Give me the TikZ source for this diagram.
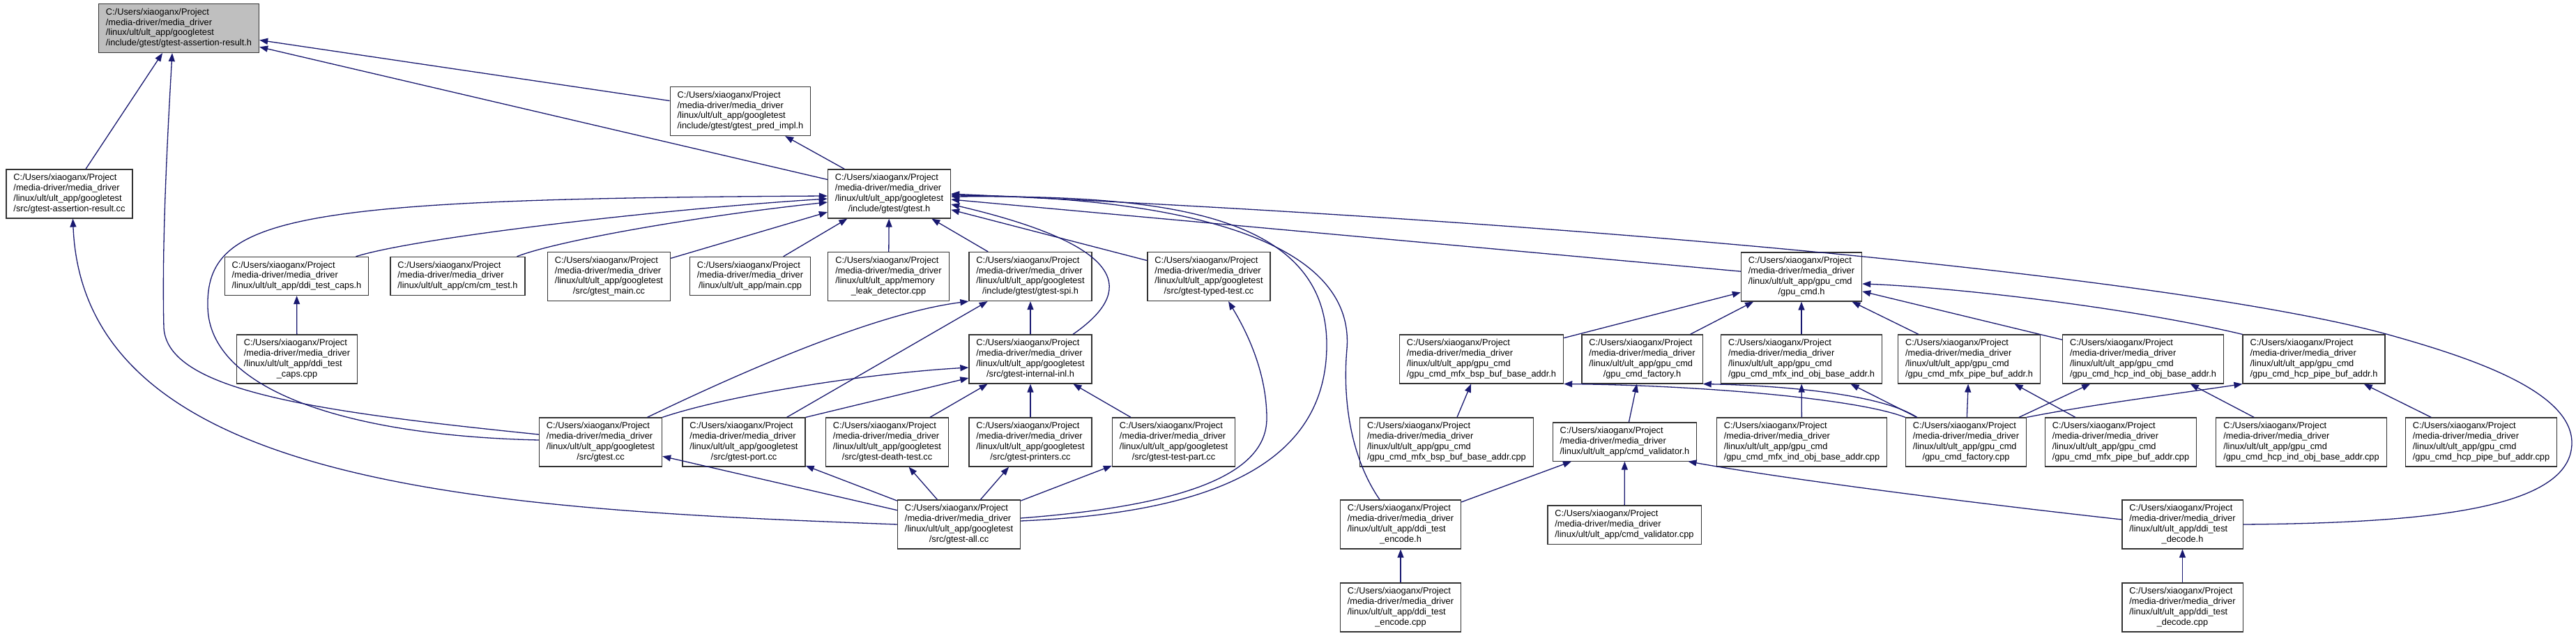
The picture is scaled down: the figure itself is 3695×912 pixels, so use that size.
\documentclass[tikz,border=0pt]{standalone}
\usepackage{fontspec}
\setmainfont{Liberation Sans}
\usetikzlibrary{arrows.meta}

\definecolor{edgeblue}{RGB}{25,25,112}
\definecolor{rootgray}{RGB}{191,191,191}

% file label: two fixed lines, then the rest (last line centred)
\newcommand{\incfile}[2]{\begin{tabular}{@{}l@{}}C:/Users/xiaoganx/Project\\/media-driver/media\_driver\\#1\\\multicolumn{1}{@{}c@{}}{#2}\end{tabular}}
\newcommand{\incshort}[1]{\begin{tabular}{@{}l@{}}C:/Users/xiaoganx/Project\\/media-driver/media\_driver\\\multicolumn{1}{@{}c@{}}{#1}\end{tabular}}

\begin{document}
\begin{tikzpicture}[x=1pt, y=-1pt,
    filebox/.style={draw=black!80, line width=1.2pt, fill=white, inner xsep=10.5pt, inner ysep=5.4pt,
        font=\fontsize{12.8}{14.8}\selectfont},
    incl/.style={draw=edgeblue, line width=1.3pt, -{Triangle[length=12pt,width=9pt]}}]
    \useasboundingbox[fill=white] (0,0) rectangle (3695,912);

    % Header under study
    \node[filebox, fill=rootgray] (root) at (256.5,40.5) {\incfile{/linux/ult/ult\_app/googletest}{/include/gtest/gtest-assertion-result.h}};

    % Row 1 and 2
    \node[filebox] (predimpl) at (1062,159.5) {\incfile{/linux/ult/ult\_app/googletest}{/include/gtest/gtest\_pred\_impl.h}};
    \node[filebox] (assertcc) at (99.5,278) {\incfile{/linux/ult/ult\_app/googletest}{/src/gtest-assertion-result.cc}};
    \node[filebox] (gtesth) at (1275.5,278) {\incfile{/linux/ult/ult\_app/googletest}{/include/gtest/gtest.h}};

    % Row 3
    \node[filebox] (capsh) at (425.5,396) {\incshort{/linux/ult/ult\_app/ddi\_test\_caps.h}};
    \node[filebox] (cmtesth) at (656.5,396) {\incshort{/linux/ult/ult\_app/cm/cm\_test.h}};
    \node[filebox] (gtestmain) at (873.5,396.5) {\incfile{/linux/ult/ult\_app/googletest}{/src/gtest\_main.cc}};
    \node[filebox] (maincpp) at (1076,396) {\incshort{/linux/ult/ult\_app/main.cpp}};
    \node[filebox] (memleak) at (1274.5,396.5) {\incfile{/linux/ult/ult\_app/memory}{\_leak\_detector.cpp}};
    \node[filebox] (spih) at (1478,396.5) {\incfile{/linux/ult/ult\_app/googletest}{/include/gtest/gtest-spi.h}};
    \node[filebox] (typedcc) at (1734,396.5) {\incfile{/linux/ult/ult\_app/googletest}{/src/gtest-typed-test.cc}};
    \node[filebox] (gpucmdh) at (2584,397) {\incfile{/linux/ult/ult\_app/gpu\_cmd}{/gpu\_cmd.h}};

    % Row 4
    \node[filebox] (capscpp) at (426,515) {\incfile{/linux/ult/ult\_app/ddi\_test}{\_caps.cpp}};
    \node[filebox] (internalh) at (1478,515) {\incfile{/linux/ult/ult\_app/googletest}{/src/gtest-internal-inl.h}};
    \node[filebox] (bsph) at (2125,515) {\incfile{/linux/ult/ult\_app/gpu\_cmd}{/gpu\_cmd\_mfx\_bsp\_buf\_base\_addr.h}};
    \node[filebox] (factoryh) at (2355.5,515) {\incfile{/linux/ult/ult\_app/gpu\_cmd}{/gpu\_cmd\_factory.h}};
    \node[filebox] (mfxindh) at (2584,515) {\incfile{/linux/ult/ult\_app/gpu\_cmd}{/gpu\_cmd\_mfx\_ind\_obj\_base\_addr.h}};
    \node[filebox] (mfxpipeh) at (2824.5,515) {\incfile{/linux/ult/ult\_app/gpu\_cmd}{/gpu\_cmd\_mfx\_pipe\_buf\_addr.h}};
    \node[filebox] (hcpindh) at (3074,515) {\incfile{/linux/ult/ult\_app/gpu\_cmd}{/gpu\_cmd\_hcp\_ind\_obj\_base\_addr.h}};
    \node[filebox] (hcppipeh) at (3319,515) {\incfile{/linux/ult/ult\_app/gpu\_cmd}{/gpu\_cmd\_hcp\_pipe\_buf\_addr.h}};

    % Row 5
    \node[filebox] (gtestcc) at (861.5,634) {\incfile{/linux/ult/ult\_app/googletest}{/src/gtest.cc}};
    \node[filebox] (portcc) at (1067,634) {\incfile{/linux/ult/ult\_app/googletest}{/src/gtest-port.cc}};
    \node[filebox] (deathcc) at (1272.5,634) {\incfile{/linux/ult/ult\_app/googletest}{/src/gtest-death-test.cc}};
    \node[filebox] (printerscc) at (1478,634) {\incfile{/linux/ult/ult\_app/googletest}{/src/gtest-printers.cc}};
    \node[filebox] (testpartcc) at (1683.5,634) {\incfile{/linux/ult/ult\_app/googletest}{/src/gtest-test-part.cc}};
    \node[filebox] (bspcpp) at (2075,634) {\incfile{/linux/ult/ult\_app/gpu\_cmd}{/gpu\_cmd\_mfx\_bsp\_buf\_base\_addr.cpp}};
    \node[filebox] (validatorh) at (2330.5,633.5) {\incshort{/linux/ult/ult\_app/cmd\_validator.h}};
    \node[filebox] (mfxindcpp) at (2584.5,634) {\incfile{/linux/ult/ult\_app/gpu\_cmd}{/gpu\_cmd\_mfx\_ind\_obj\_base\_addr.cpp}};
    \node[filebox] (factorycpp) at (2820,634) {\incfile{/linux/ult/ult\_app/gpu\_cmd}{/gpu\_cmd\_factory.cpp}};
    \node[filebox] (mfxpipecpp) at (3042,634) {\incfile{/linux/ult/ult\_app/gpu\_cmd}{/gpu\_cmd\_mfx\_pipe\_buf\_addr.cpp}};
    \node[filebox] (hcpindcpp) at (3301,634) {\incfile{/linux/ult/ult\_app/gpu\_cmd}{/gpu\_cmd\_hcp\_ind\_obj\_base\_addr.cpp}};
    \node[filebox] (hcppipecpp) at (3559,634) {\incfile{/linux/ult/ult\_app/gpu\_cmd}{/gpu\_cmd\_hcp\_pipe\_buf\_addr.cpp}};

    % Row 6 and 7
    \node[filebox] (gtestall) at (1375.5,752) {\incfile{/linux/ult/ult\_app/googletest}{/src/gtest-all.cc}};
    \node[filebox] (encodeh) at (2009,752) {\incfile{/linux/ult/ult\_app/ddi\_test}{\_encode.h}};
    \node[filebox] (validatorcpp) at (2330,752.5) {\incshort{/linux/ult/ult\_app/cmd\_validator.cpp}};
    \node[filebox] (decodeh) at (3130.5,752) {\incfile{/linux/ult/ult\_app/ddi\_test}{\_decode.h}};
    \node[filebox] (encodecpp) at (2009,871) {\incfile{/linux/ult/ult\_app/ddi\_test}{\_encode.cpp}};
    \node[filebox] (decodecpp) at (3130.5,871) {\incfile{/linux/ult/ult\_app/ddi\_test}{\_decode.cpp}};

    % Into gtest-assertion-result.h
    \draw[incl] (assertcc) -- (root);
    \draw[incl] ([yshift=11pt]gtestcc.west) .. controls (450,590) and (240,560) .. (235,470)
        .. controls (232,350) and (240,200) .. ([xshift=-9.5pt]root.south);
    \draw[incl] (predimpl) -- (root);
    \draw[incl] (gtesth) -- (root);
    \draw[incl] (gtesth) -- (predimpl);

    % Into gtest.h
    \draw[incl] ([yshift=3pt]gtestcc.west) .. controls (500,625) and (300,560) .. (298,440)
        .. controls (295,310) and (420,285) .. ([yshift=-3pt]gtesth.west);
    \draw[incl] ([xshift=85pt]capsh.north) .. controls (600,340) and (950,300) .. ([yshift=-7pt]gtesth.west);
    \draw[incl] ([xshift=85pt]cmtesth.north) .. controls (800,345) and (1000,310) .. ([yshift=-12pt]gtesth.west);
    \draw[incl] (gtestmain) -- (gtesth);
    \draw[incl] (maincpp) -- (gtesth);
    \draw[incl] (memleak) -- (gtesth);
    \draw[incl] (spih) -- (gtesth);
    \draw[incl] (typedcc) -- (gtesth);
    \draw[incl] ([xshift=61pt]internalh.north) .. controls (1610,430) and (1650,360) .. ([yshift=-15pt]gtesth.east);
    \draw[incl] (gpucmdh) -- (gtesth);
    \draw[incl] ([xshift=-30pt]encodeh.north) .. controls (1940,660) and (1925,580) .. (1932,500)
        .. controls (1945,330) and (1650,282) .. ([yshift=-2pt]gtesth.east);
    \draw[incl] ([yshift=5pt]gtestall.east) .. controls (1750,735) and (1905,660) .. (1903,491)
        .. controls (1900,300) and (1650,280) .. ([yshift=-4pt]gtesth.east);
    \draw[incl] (decodeh.east) .. controls (3480,750) and (3689,730) .. (3689,635)
        .. controls (3689,560) and (3540,512) .. (3430,481)
        .. controls (3200,416) and (2500,330) .. (gtesth.east);

    % googletest sources
    \draw[incl] (capscpp) -- (capsh);
    \draw[incl] ([xshift=67pt]gtestcc.north) .. controls (1050,540) and (1250,450) .. (spih.south west);
    \draw[incl] (portcc) -- (spih);
    \draw[incl] (internalh) -- (spih);
    \draw[incl] (gtestcc.north east) .. controls (1050,565) and (1250,535) .. ([yshift=-12pt]internalh.west);
    \draw[incl] (portcc.north east) -- ([yshift=-27pt]internalh.west);
    \draw[incl] (deathcc) -- (internalh);
    \draw[incl] (printerscc) -- (internalh);
    \draw[incl] (testpartcc) -- (internalh);

    % gtest-all.cc
    \draw[incl] (gtestall.west) .. controls (700,730) and (120,700) .. ([xshift=5pt]assertcc.south);
    \draw[incl] (gtestall) -- (gtestcc);
    \draw[incl] (gtestall) -- (portcc);
    \draw[incl] (gtestall) -- (deathcc);
    \draw[incl] (gtestall) -- (printerscc);
    \draw[incl] (gtestall) -- (testpartcc);
    \draw[incl] ([yshift=9pt]gtestall.east) .. controls (1700,725) and (1817,680) .. (1817,600)
        .. controls (1817,530) and (1785,470) .. ([xshift=28pt]typedcc.south);

    % Into gpu_cmd.h
    \draw[incl] (bsph) -- (gpucmdh);
    \draw[incl] (factoryh) -- (gpucmdh);
    \draw[incl] (mfxindh) -- (gpucmdh);
    \draw[incl] (mfxpipeh) -- (gpucmdh);
    \draw[incl] (hcpindh) -- (gpucmdh);
    \draw[incl] (hcppipeh.north west) .. controls (3050,440) and (2800,412) .. ([yshift=-10pt]gpucmdh.east);

    % gpu_cmd sources
    \draw[incl] (bspcpp) -- (bsph);
    \draw[incl] (validatorh) -- (factoryh);
    \draw[incl] (mfxindcpp) -- (mfxindh);
    \draw[incl] (factorycpp.north west) .. controls (2660,570) and (2420,552) .. (bsph.south east);
    \draw[incl] ([xshift=17pt]factorycpp.north west) .. controls (2690,560) and (2520,552) .. (factoryh.south east);
    \draw[incl] (factorycpp) -- (mfxindh);
    \draw[incl] (factorycpp) -- (mfxpipeh);
    \draw[incl] (factorycpp) -- (hcpindh);
    \draw[incl] (factorycpp.north east) .. controls (3000,580) and (3120,565) .. (hcppipeh.south west);
    \draw[incl] (mfxpipecpp) -- (mfxpipeh);
    \draw[incl] (hcpindcpp) -- (hcpindh);
    \draw[incl] (hcppipecpp) -- (hcppipeh);

    % cmd_validator.h and the ddi tests
    \draw[incl] (encodeh) -- (validatorh);
    \draw[incl] (validatorcpp) -- (validatorh);
    \draw[incl] ([yshift=7pt]decodeh.west) .. controls (2800,718) and (2550,685) .. ([xshift=-13pt]validatorh.south east);
    \draw[incl] (encodecpp) -- (encodeh);
    \draw[incl] (decodecpp) -- (decodeh);
\end{tikzpicture}
\end{document}
